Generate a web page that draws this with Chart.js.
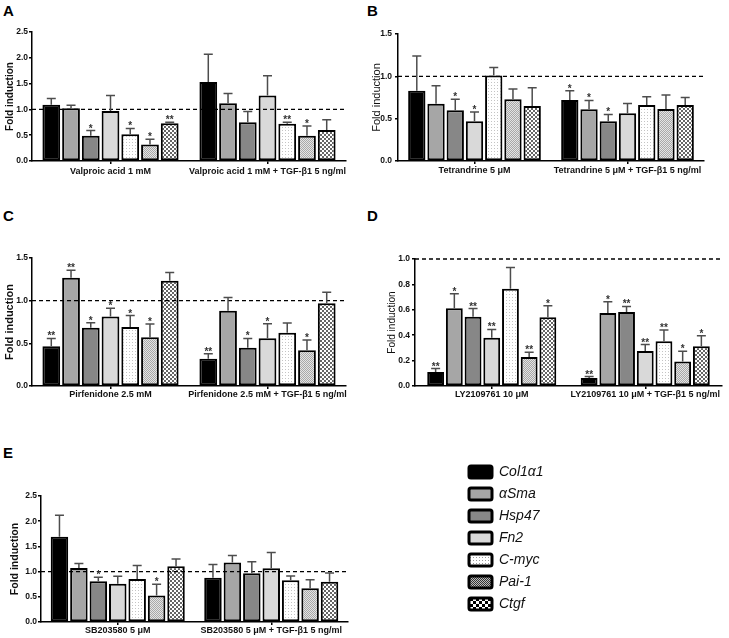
<!DOCTYPE html>
<html>
<head>
<meta charset="utf-8">
<script src="https://cdn.jsdelivr.net/npm/chart.js@4.4.1/dist/chart.umd.min.js"></script>
<style>
  html, body { margin:0; padding:0; background:#fff; }
  body { width:729px; height:638px; position:relative; overflow:hidden; }
  canvas { position:absolute; }
  .lt { position:absolute; font: bold 15px "Liberation Sans", Arial, sans-serif; line-height:15px; color:#000; }
</style>
</head>
<body>
<div class="lt" style="left:3px;top:3px">A</div>
<div class="lt" style="left:367px;top:3px">B</div>
<div class="lt" style="left:3px;top:208px">C</div>
<div class="lt" style="left:367px;top:208px">D</div>
<div class="lt" style="left:3px;top:445px">E</div>
<script>
// ---------------- DATA ----------------
const genes = ['Col1α1', 'αSma', 'Hsp47', 'Fn2', 'C-myc', 'Pai-1', 'Ctgf'];

// Panel A
const catsA = ['Valproic acid 1 mM', 'Valproic acid 1 mM + TGF-β1 5 ng/ml'];
const meanA = [[1.09, 1.53], [1.02, 1.12], [0.49, 0.75], [0.97, 1.27], [0.52, 0.72], [0.32, 0.49], [0.73, 0.60]];
const sdA   = [[0.12, 0.54], [0.06, 0.19], [0.10, 0.21], [0.30, 0.38], [0.11, 0.03], [0.10, 0.19], [0.02, 0.20]];
const starA = [['', ''], ['', ''], ['*', ''], ['', ''], ['*', '**'], ['*', '*'], ['**', '']];

// Panel B
const catsB = ['Tetrandrine 5 μM', 'Tetrandrine 5 μM + TGF-β1 5 ng/ml'];
const meanB = [[0.83, 0.72], [0.675, 0.61], [0.60, 0.47], [0.47, 0.565], [1.01, 0.66], [0.73, 0.615], [0.65, 0.66]];
const sdB   = [[0.41, 0.11], [0.215, 0.105], [0.13, 0.08], [0.11, 0.115], [0.095, 0.10], [0.12, 0.165], [0.215, 0.09]];
const starB = [['', '*'], ['', '*'], ['*', '*'], ['*', ''], ['', ''], ['', ''], ['', '']];

// Panel C
const catsC = ['Pirfenidone 2.5 mM', 'Pirfenidone 2.5 mM + TGF-β1 5 ng/ml'];
const meanC = [[0.467, 0.32], [1.27, 0.883], [0.683, 0.448], [0.813, 0.56], [0.69, 0.624], [0.57, 0.42], [1.233, 0.97]];
const sdC   = [[0.09, 0.057], [0.085, 0.153], [0.059, 0.109], [0.097, 0.17], [0.135, 0.114], [0.156, 0.12], [0.097, 0.13]];
const starC = [['**', '**'], ['**', ''], ['*', '*'], ['*', '*'], ['*', ''], ['*', '*'], ['', '']];

// Panel D
const catsD = ['LY2109761 10 μM', 'LY2109761 10 μM + TGF-β1 5 ng/ml'];
const meanD = [[0.11, 0.063], [0.613, 0.574], [0.545, 0.582], [0.379, 0.276], [0.766, 0.353], [0.229, 0.192], [0.542, 0.313]];
const sdD   = [[0.027, 0.011], [0.113, 0.089], [0.065, 0.044], [0.066, 0.05], [0.168, 0.087], [0.037, 0.082], [0.09, 0.082]];
const starD = [['**', '**'], ['*', '*'], ['**', '**'], ['**', '**'], ['', '**'], ['**', '*'], ['*', '*']];

// Panel E
const catsE = ['SB203580 5 μM', 'SB203580 5 μM + TGF-β1 5 ng/ml'];
const meanE = [[1.69, 0.88], [1.07, 1.18], [0.81, 0.967], [0.76, 1.065], [0.855, 0.83], [0.526, 0.67], [1.105, 0.80]];
const sdE   = [[0.43, 0.26], [0.09, 0.14], [0.08, 0.23], [0.15, 0.315], [0.265, 0.084], [0.224, 0.17], [0.145, 0.17]];
const starE = [['', ''], ['', ''], ['*', ''], ['', ''], ['', ''], ['*', ''], ['', '']];

// ---------------- STYLE ----------------
const FAM = '"Liberation Sans", Arial, sans-serif';

function makePattern(size, draw) {
  const c = document.createElement('canvas');
  c.width = size; c.height = size;
  const x = c.getContext('2d');
  draw(x);
  return x.createPattern(c, 'repeat');
}
const patCmyc = makePattern(3, x => { x.fillStyle = '#fff'; x.fillRect(0,0,3,3); x.fillStyle = '#c4c4c4'; x.fillRect(0,0,1,1); });
const patPai = makePattern(2, x => { x.fillStyle = '#e4e4e4'; x.fillRect(0,0,2,2); x.fillStyle = '#a8a8a8'; x.fillRect(0,0,1,1); x.fillRect(1,1,1,1); });
const patCtgf = makePattern(4, x => { x.fillStyle = '#fff'; x.fillRect(0,0,4,4); x.fillStyle = '#666'; x.fillRect(0,0,2,2); x.fillRect(2,2,2,2); });
const fills = ['#000000', '#a6a6a6', '#878787', '#d9d9d9', patCmyc, patPai, patCtgf];

// legend swatches in the reference are rendered a little differently
const legPai = makePattern(2, x => { x.fillStyle = '#bdbdbd'; x.fillRect(0,0,2,2); x.fillStyle = '#333'; x.fillRect(0,0,1,1); x.fillRect(1,1,1,1); });
const legCtgf = makePattern(6, x => { x.fillStyle = '#fff'; x.fillRect(0,0,6,6); x.fillStyle = '#000'; x.fillRect(0,0,3,3); x.fillRect(3,3,3,3); });
const legCmyc = makePattern(3, x => { x.fillStyle = '#fff'; x.fillRect(0,0,3,3); x.fillStyle = '#999'; x.fillRect(0,1,1,1); });
const legendFills = ['#000000', '#a6a6a6', '#878787', '#d9d9d9', legCmyc, legPai, legCtgf];

const errPlugin = {
  id: 'errStars',
  afterDatasetsDraw(chart, args, opts) {
    if (!opts.sd) return;
    const ctx = chart.ctx, ys = chart.scales.y, area = chart.chartArea;
    ctx.save();
    const y1 = ys.getPixelForValue(1);
    ctx.strokeStyle = '#000'; ctx.lineWidth = 1.3; ctx.setLineDash([4, 3]);
    ctx.beginPath(); ctx.moveTo(area.left, y1); ctx.lineTo(area.right, y1); ctx.stroke();
    ctx.setLineDash([]);
    chart.data.datasets.forEach((ds, i) => {
      const meta = chart.getDatasetMeta(i);
      meta.data.forEach((bar, j) => {
        const top = ys.getPixelForValue(ds.data[j] + opts.sd[i][j]);
        ctx.strokeStyle = '#4d4d4d'; ctx.lineWidth = 1.5;
        ctx.beginPath();
        ctx.moveTo(bar.x, bar.y); ctx.lineTo(bar.x, top);
        ctx.moveTo(bar.x - 4.5, top); ctx.lineTo(bar.x + 4.5, top);
        ctx.stroke();
        const s = opts.stars[i][j];
        if (s) {
          ctx.fillStyle = '#333';
          ctx.font = 'bold 10px ' + FAM;
          ctx.textAlign = 'center'; ctx.textBaseline = 'alphabetic';
          ctx.fillText(s, bar.x, top + 1);
        }
      });
    });
    ctx.restore();
  }
};
Chart.register(errPlugin);

function makePanel(p) {
  const cv = document.createElement('canvas');
  cv.width = p.box[2]; cv.height = p.box[3];
  cv.style.left = p.box[0] + 'px'; cv.style.top = p.box[1] + 'px';
  cv.style.width = p.box[2] + 'px'; cv.style.height = p.box[3] + 'px';
  document.body.appendChild(cv);
  const [bx, by, bw, bh] = p.box;
  const [pl, pt, pr, pb] = p.plot;
  new Chart(cv, {
    type: 'bar',
    data: {
      labels: p.cats,
      datasets: genes.map((g, i) => ({
        label: g, data: p.mean[i], backgroundColor: fills[i], borderColor: '#000',
        borderWidth: 2, borderSkipped: false, categoryPercentage: p.cp, barPercentage: 0.9
      }))
    },
    options: {
      responsive: false, animation: false, events: [],
      layout: { padding: { top: pt - by, right: (bx + bw) - pr, left: 0, bottom: 0 } },
      plugins: { legend: { display: false }, tooltip: { enabled: false }, errStars: { sd: p.sd, stars: p.stars } },
      scales: {
        x: {
          grid: { display: true, drawOnChartArea: false, offset: false, tickLength: 3, color: '#000', lineWidth: 1.5 },
          border: { color: '#000', width: 1.5 },
          ticks: { font: { family: FAM, size: 9, weight: 'bold' }, color: '#111', padding: p.xpad, maxRotation: 0, autoSkip: false },
          afterFit(s) { s.height = (by + bh) - pb; }
        },
        y: {
          min: 0, max: p.ymax,
          ticks: { stepSize: p.step, callback: v => Number(v).toFixed(1), font: { family: FAM, size: 8.5, weight: 'bold' }, color: '#111', padding: p.ypad },
          grid: { drawOnChartArea: false, tickLength: 3, color: '#000', lineWidth: 1.5 },
          border: { color: '#000', width: 1.5 },
          title: { display: true, text: 'Fold induction', color: '#111', font: { family: FAM, size: p.tsize, weight: p.tweight }, padding: { top: p.tpad, bottom: 0 } },
          afterFit(s) { s.width = pl - bx; }
        }
      }
    }
  });
}

makePanel({ box: [0, 22, 362, 166], plot: [32, 32, 346, 161], cats: catsA, mean: meanA, sd: sdA, stars: starA, ymax: 2.5, step: 0.5, cp: 0.88, xpad: 2, ypad: 1, tsize: 10, tweight: 'bold', tpad: 4 });
makePanel({ box: [365, 22, 364, 166], plot: [398, 34, 704, 161], cats: catsB, mean: meanB, sd: sdB, stars: starB, ymax: 1.5, step: 0.5, cp: 0.88, xpad: 1, ypad: 3, tsize: 11, tweight: 'normal', tpad: 5 });
makePanel({ box: [0, 240, 362, 172], plot: [32, 258, 346, 386], cats: catsC, mean: meanC, sd: sdC, stars: starC, ymax: 1.5, step: 0.5, cp: 0.88, xpad: 0, ypad: 1, tsize: 11, tweight: 'bold', tpad: 3 });
makePanel({ box: [365, 240, 364, 172], plot: [415, 259, 722, 386], cats: catsD, mean: meanD, sd: sdD, stars: starD, ymax: 1.0, step: 0.2, cp: 0.853, xpad: 0, ypad: 2, tsize: 10, tweight: 'normal', tpad: 21 });
makePanel({ box: [0, 470, 362, 168], plot: [41, 496, 348, 622], cats: catsE, mean: meanE, sd: sdE, stars: starE, ymax: 2.5, step: 0.5, cp: 0.886, xpad: 0, ypad: 1, tsize: 10.5, tweight: 'bold', tpad: 9 });

// Legend (legend-only chart)
(function () {
  const cv = document.createElement('canvas');
  cv.width = 170; cv.height = 180;
  cv.style.left = '461px'; cv.style.top = '457px';
  cv.style.width = '170px'; cv.style.height = '180px';
  document.body.appendChild(cv);
  new Chart(cv, {
    type: 'bar',
    data: { labels: [], datasets: genes.map((g, i) => ({ label: g, data: [], backgroundColor: fills[i], borderColor: '#000', borderWidth: 3 })) },
    options: {
      responsive: false, animation: false, events: [],
      layout: { padding: 0 },
      scales: { x: { display: false }, y: { display: false } },
      plugins: {
        tooltip: { enabled: false },
        legend: {
          display: true, position: 'left', align: 'start',
          labels: {
            boxWidth: 23, boxHeight: 12, padding: 8, color: '#111',
            useBorderRadius: true, borderRadius: 2,
            font: { family: FAM, size: 14, style: 'italic' },
            generateLabels(chart) {
              const items = Chart.defaults.plugins.legend.labels.generateLabels(chart);
              items.forEach((it, i) => { it.fillStyle = legendFills[i]; it.lineWidth = 3; });
              return items;
            }
          }
        }
      }
    }
  });
})();
</script>
</body>
</html>
